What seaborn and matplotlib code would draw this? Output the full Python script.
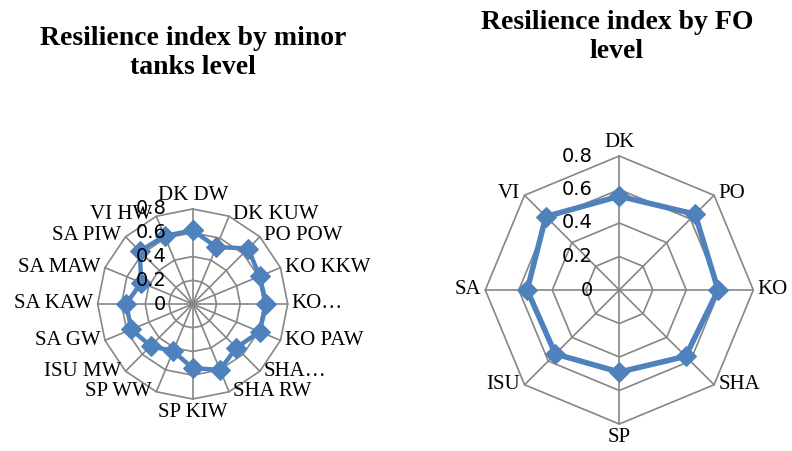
import numpy as np
import matplotlib
matplotlib.use('Agg')
import matplotlib.pyplot as plt
import seaborn as sns

# minor tanks level
tank_labels = ['DK DW', 'DK KUW', 'PO POW', 'KO KKW', 'KO…', 'KO PAW', 'SHA…', 'SHA RW',
               'SP KIW', 'SP WW', 'ISU MW', 'SA GW', 'SA KAW', 'SA MAW', 'SA PIW', 'VI HW']
tank_values = [0.62, 0.52, 0.66, 0.61, 0.62, 0.61, 0.52, 0.60,
               0.54, 0.43, 0.50, 0.56, 0.56, 0.47, 0.63, 0.62]

# FO level
fo_labels = ['DK', 'PO', 'KO', 'SHA', 'SP', 'ISU', 'SA', 'VI']
fo_values = [0.56, 0.64, 0.59, 0.56, 0.49, 0.54, 0.55, 0.62]

ring_ticks = [0, 0.2, 0.4, 0.6, 0.8]
tick_text = ['0', '0.2', '0.4', '0.6', '0.8']

sns.set_theme(style='white')
plt.rcParams['font.family'] = ['Liberation Serif', 'DejaVu Serif']
plt.rcParams['text.color'] = 'black'

blue = '#4F81BD'
grid_col = '#868686'


def radar(ax, labels, values, lw, ms):
    n = len(labels)
    ang = np.linspace(0, 2 * np.pi, n, endpoint=False)
    ax.set_theta_zero_location('N')
    ax.set_theta_direction(-1)
    ax.set_ylim(0, 0.8)
    ax.grid(False)
    ax.spines['polar'].set_visible(False)
    ax.set_xticks([])
    ax.set_yticks([])
    ax.set_facecolor('none')

    # polygon grid
    ang_c = np.append(ang, ang[0])
    for r in ring_ticks[1:]:
        ax.plot(ang_c, [r] * (n + 1), color=grid_col, lw=1.2, clip_on=False, zorder=1)
    for a in ang:
        ax.plot([a, a], [0, 0.8], color=grid_col, lw=1.2, clip_on=False, zorder=1)

    # data
    x = np.append(ang, 2 * np.pi)
    y = np.append(values, values[0])
    sns.lineplot(x=x, y=y, ax=ax, color=blue, lw=lw, marker='D', markersize=ms,
                 markeredgecolor=blue, sort=False, clip_on=False, zorder=3)
    ax.set_xlabel('')
    ax.set_ylabel('')

    # category labels
    for a, lab in zip(ang, labels):
        s, c = np.sin(a), np.cos(a)
        if abs(s) < 1e-6:
            ha = 'center'
            va = 'bottom' if c > 0 else 'top'
            off = (0, 3 if c > 0 else -3)
        else:
            ha = 'left' if s > 0 else 'right'
            va = 'center'
            off = (3 * np.sign(s), 1 if c > 0.5 else 0)
        ax.annotate(lab, xy=(a, 0.8), xytext=off, textcoords='offset points',
                    ha=ha, va=va, fontsize=15, annotation_clip=False)

    # value labels, drawn over the series like the original
    for r, t in zip(ring_ticks, tick_text):
        ax.annotate(t, xy=(0, r), xytext=(-19, 0), textcoords='offset points',
                    ha='right', va='center', fontsize=14, family='DejaVu Sans',
                    color='black', annotation_clip=False, zorder=5)


fig = plt.figure(figsize=(7.92, 4.51), dpi=100)
ax1 = fig.add_axes([97.7 / 792, 52 / 451, 190 / 792, 190 / 451], projection='polar')
ax2 = fig.add_axes([485.3 / 792, 27 / 451, 268 / 792, 268 / 451], projection='polar')

radar(ax1, tank_labels, tank_values, lw=3.2, ms=10)
radar(ax2, fo_labels, fo_values, lw=4, ms=10)

fig.text(193 / 792, 1 - 53 / 451, 'Resilience index by minor\ntanks level', ha='center', va='center',
         fontsize=20, fontweight='bold', linespacing=1.25)
fig.text(617 / 792, 1 - 37 / 451, 'Resilience index by FO\nlevel', ha='center', va='center',
         fontsize=20, fontweight='bold', linespacing=1.25)

fig.savefig('out.png', dpi=100)
